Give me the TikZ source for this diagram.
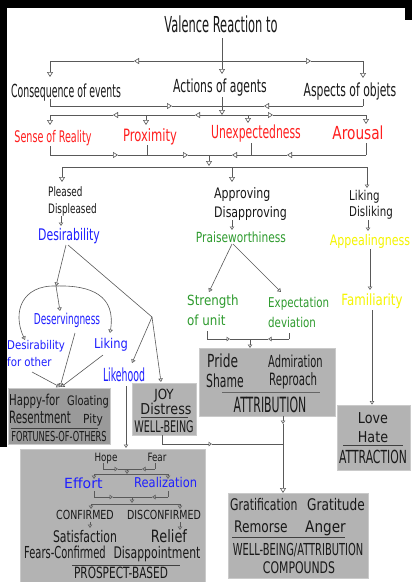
\documentclass[tikz,border=0pt]{standalone}
\usepackage{fontspec}
\setmainfont{DejaVu Sans}
\newfontfamily\fN[FakeStretch=0.52]{DejaVu Sans}
\newfontfamily\fM[FakeStretch=0.60]{DejaVu Sans}
\newfontfamily\fW[FakeStretch=0.68]{DejaVu Sans}
\newfontfamily\fX[FakeStretch=0.76]{DejaVu Sans}
\newfontfamily\fY[FakeStretch=0.85]{DejaVu Sans}
\newcommand\fsz[1]{\fontsize{#1}{#1}\selectfont}
\usetikzlibrary{arrows.meta}
\definecolor{cred}{HTML}{FF1F1F}
\definecolor{cblue}{HTML}{1F1FFF}
\definecolor{cgreen}{HTML}{2E9B2E}
\definecolor{cyel}{HTML}{F5F500}
\definecolor{boxg}{HTML}{B3B3B3}
\definecolor{boxd}{HTML}{9A9A9A}
\definecolor{boxe}{HTML}{CACACA}
\begin{document}
\begin{tikzpicture}[x=1pt,y=-1pt,
  ln/.style={draw=black!65, line width=0.6pt},
  ar/.style={ln, -{Triangle[open, length=5pt, width=6pt]}},
  sar/.style={ln, -{Triangle[open, length=3.5pt, width=4.5pt]}},
  txt/.style={inner sep=0pt, anchor=base, text=black!90},
  tl/.style={txt, anchor=base west},
  box/.style={draw=boxe, fill=boxg, line width=0.8pt, inner sep=0pt},
  rtx/.style={txt, text=cred},
  btx/.style={txt, text=cblue},
  gtx/.style={tl, text=cgreen},
  ytx/.style={txt, text=cyel},
]
\useasboundingbox (0,0) rectangle (412,582);
\fill[white] (0,0) rectangle (412,582);
\fill[black] (0,0) rectangle (412,8);
\fill[black] (0,0) rectangle (7,447);
\fill[black] (405,0) rectangle (412,20);

% ---------- boxes ----------
\node[box, fill=boxd, minimum width=102pt, minimum height=56pt] (hbox) at (59,416) {};
\node[box, minimum width=64pt, minimum height=52pt] (jbox) at (164,409) {};
\node[box, minimum width=136pt, minimum height=68pt] (abox) at (267,382) {};
\node[box, minimum width=73pt, minimum height=65pt] (lbox) at (373.5,437.5) {};
\node[box, minimum width=140pt, minimum height=85pt] (cbox) at (298,535.5) {};
\node[box, minimum width=185pt, minimum height=134pt] (pbox) at (112.5,516) {};

% ---------- top texts ----------
\node[txt, font=\fN\fsz{22}] (title) at (221,32) {Valence Reaction to};
\node[txt, font=\fN\fsz{18}] (cons) at (66,97) {Consequence of events};
\node[txt, font=\fM\fsz{18}] (acts) at (220,92) {Actions of agents};
\node[txt, font=\fM\fsz{18}] (asp) at (350,96) {Aspects of objets};

\node[rtx, font=\fM\fsz{16}] (sense) at (53,142) {Sense of Reality};
\node[rtx, font=\fW\fsz{17}] (prox) at (150,141) {Proximity};
\node[rtx, font=\fM\fsz{18}] (unexp) at (256,138) {Unexpectedness};
\node[rtx, font=\fX\fsz{18}] (arou) at (358,139) {Arousal};

\node[tl, font=\fW\fsz{13}] (pl) at (48,196) {Pleased};
\node[tl, font=\fW\fsz{13}] (dpl) at (48,213) {Displeased};
\node[tl, font=\fX\fsz{14.5}] (ap) at (214,198) {Approving};
\node[tl, font=\fX\fsz{14.5}] (dap) at (214,217) {Disapproving};
\node[tl, font=\fX\fsz{13.5}] (lk) at (349,200) {Liking};
\node[tl, font=\fX\fsz{13.5}] (dlk) at (349,216) {Disliking};

\node[btx, font=\fW\fsz{16}] (desir) at (69,240) {Desirability};
\node[txt, text=cgreen, font=\fX\fsz{14}] (praise) at (241,242) {Praiseworthiness};
\node[ytx, font=\fX\fsz{14.5}] (appeal) at (370,245) {Appealingness};
\node[ytx, font=\fX\fsz{15.5}] (famil) at (372,305) {Familiarity};

\node[gtx, font=\fY\fsz{14}] (str) at (187,305) {Strength};
\node[gtx, font=\fY\fsz{14}] (ofu) at (187,325) {of unit};
\node[gtx, font=\fX\fsz{13.5}] (exp) at (268,307) {Expectation};
\node[gtx, font=\fX\fsz{13.5}] (dev) at (268,327) {deviation};

\node[btx, font=\fM\fsz{15}] (deserv) at (67,324) {Deservingness};
\node[btx, anchor=base west, font=\fY\fsz{12}] (dfo1) at (7,349) {Desirability};
\node[btx, anchor=base west, font=\fY\fsz{12}] (dfo2) at (7,366) {for other};
\node[btx, font=\fY\fsz{13.5}] (lik2) at (111,348) {Liking};
\node[btx, font=\fN\fsz{18}] (likeh) at (124,381) {Likehood};

% ---------- box texts ----------
\node[tl, font=\fW\fsz{15}] (happy) at (9,405) {Happy-for};
\node[tl, font=\fX\fsz{13}] (gloat) at (67,405) {Gloating};
\node[tl, font=\fM\fsz{17}] (resent) at (9,423) {Resentment};
\node[tl, font=\fY\fsz{12.5}] (pity) at (83,423) {Pity};
\draw[black!75, line width=0.6pt] (11,428) -- (98,428);
\node[txt, font=\fM\fsz{13.7}] (foo) at (59,441) {FORTUNES-OF-OTHERS};

\node[txt, font=\fY\fsz{14}] (joy) at (164,399) {JOY};
\node[txt, font=\fY\fsz{15}] (distr) at (166,414) {Distress};
\draw[black!75, line width=0.6pt] (141,417) -- (188,417);
\node[txt, font=\fM\fsz{16}] (wb) at (164,432) {WELL-BEING};

\node[tl, font=\fW\fsz{18}] (pride) at (207,367) {Pride};
\node[tl, font=\fM\fsz{18}] (shame) at (206,387) {Shame};
\node[tl, font=\fM\fsz{16.5}] (admir) at (268,367) {Admiration};
\node[tl, font=\fM\fsz{17}] (repr) at (269,385) {Reproach};
\draw[black!60, line width=0.8pt] (222,392) -- (320,392);
\node[txt, font=\fN\fsz{21}] (attr) at (270,412) {ATTRIBUTION};

\node[txt, font=\fY\fsz{15}] (love) at (373,423) {Love};
\node[txt, font=\fY\fsz{15}] (hate) at (373,442) {Hate};
\draw[black!75, line width=0.6pt] (343,445) -- (403,445);
\node[txt, font=\fM\fsz{18}] (attrac) at (373,463) {ATTRACTION};

\node[tl, font=\fW\fsz{16}] (grat) at (230,510) {Gratification};
\node[tl, font=\fX\fsz{16}] (gratu) at (307,510) {Gratitude};
\node[tl, font=\fX\fsz{16}] (remor) at (234,532) {Remorse};
\node[tl, font=\fY\fsz{16}] (anger) at (305,532) {Anger};
\draw[black!75, line width=0.6pt] (232,537) -- (345,537);
\node[txt, font=\fM\fsz{16.5}] (wba) at (298,555) {WELL-BEING/ATTRIBUTION};
\node[txt, font=\fW\fsz{16}] (comp) at (299,573) {COMPOUNDS};

\node[txt, font=\fX\fsz{11.5}] (hope) at (106,461) {Hope};
\node[txt, font=\fX\fsz{11.5}] (fear) at (157,461) {Fear};
\node[tl, text=cblue, font=\fsz{14}] (effort) at (64,488) {Effort};
\node[tl, text=cblue, font=\fY\fsz{13.5}] (realiz) at (134,487) {Realization};
\node[txt, font=\fX\fsz{12.5}] (conf) at (85,519) {CONFIRMED};
\node[txt, font=\fX\fsz{12.5}] (disc) at (164,519) {DISCONFIRMED};
\node[txt, font=\fW\fsz{16}] (satis) at (85,542) {Satisfaction};
\node[txt, font=\fX\fsz{17}] (relief) at (169,542) {Relief};
\node[txt, font=\fM\fsz{16.5}] (fconf) at (65,558) {Fears-Confirmed};
\node[txt, font=\fW\fsz{16}] (disap) at (157,558) {Disappointment};
\draw[black!75, line width=0.6pt] (72,565) -- (180,565);
\node[txt, font=\fW\fsz{15.5}] (pb) at (121,578.5) {PROSPECT-BASED};

% ---------- connectors: top ----------
\draw[ar] (222,38) -- (222,74);
\draw[ar] (222,61) -- (134,61);
\draw[ln] (134,61) -- (50,61);
\draw[ar] (50,61) -- (50,77);
\draw[ar] (222,61) -- (311,61);
\draw[ln] (311,61) -- (363,61);
\draw[ar] (363,61) -- (363,78);

\draw[ln] (50,99) -- (50,106);
\draw[ar] (50,106) -- (172,106);
\draw[ln] (172,106) -- (222,106);
\draw[ln] (363,99) -- (363,106);
\draw[ar] (363,106) -- (264,106);
\draw[ln] (264,106) -- (222,106);
\draw[ar] (222,97) -- (222,115);

\draw[ar] (222,115) -- (195,115);
\draw[ln] (195,115) -- (146,115);
\draw[ar] (146,115) -- (113,115);
\draw[ln] (113,115) -- (50,115);
\draw[ln] (222,115) -- (248,115);
\draw[ar] (248,115) -- (273,115);
\draw[ln] (273,115) -- (366,115);
\draw[ar] (50,115) -- (50,125);
\draw[ar] (146,115) -- (146,125);
\draw[ar] (248,115) -- (248,123);
\draw[ar] (366,115) -- (366,124);

\draw[ln] (50,146) -- (50,155);
\draw[ln] (147,145) -- (147,155);
\draw[ln] (251,143) -- (251,155);
\draw[ln] (366,143) -- (366,155);
\draw[ar] (50,155) -- (118,155);
\draw[ln] (118,155) -- (147,155);
\draw[ar] (147,155) -- (188,155);
\draw[ln] (188,155) -- (209,155);
\draw[ar] (251,155) -- (232,155);
\draw[ln] (232,155) -- (209,155);
\draw[ar] (366,155) -- (287,155);
\draw[ln] (287,155) -- (251,155);
\draw[ar] (209,155) -- (209,166);

\draw[ln] (62,167) -- (367,167);
\draw[ar] (62,167) -- (62,182);
\draw[ar] (232,167) -- (232,182);
\draw[sar] (367,167) -- (367,188);

\draw[sar] (61,216) -- (61,226);
\draw[sar] (232,220) -- (232,230);
\draw[sar] (368,220) -- (368,231);
\draw[sar] (370,249) -- (370,290);
\draw[sar] (372,310) -- (lbox.north -| 372,0);

% ---------- praiseworthiness branch ----------
\draw[sar] (232,244) -- (209,292);
\draw[sar] (233,244) -- (281,292);
\draw[ln] (207,331) -- (207,339);
\draw[ln] (289,333) -- (289,339);
\draw[sar] (207,339) -- (230,339);
\draw[ln] (230,339) -- (250,339);
\draw[sar] (289,339) -- (268,339);
\draw[ln] (268,339) -- (250,339);
\draw[sar] (250,339) -- (250,348);

\draw[sar] (283,416) -- (283,424);
\draw[ar] (283,424) -- (283,493);
\draw[ln] (162,435) -- (162,444);
\draw[sar] (162,444) -- (212,444);
\draw[ln] (212,444) -- (283,444);

% ---------- desirability branch ----------
\coordinate (j1) at (56,286);
\coordinate (j2) at (152,317);
\draw[sar] (66,245) -- (j1);
\draw[ln] (68,245) -- (j2);
\draw[sar] (j1) -- (60,311);
\draw[sar] (j1) .. controls (22,285) and (12,312) .. (25,340);
\draw[sar] (j1) .. controls (92,285) and (116,296) .. (110,333);
\draw[sar] (j2) -- (132,363);
\draw[sar] (j2) -- (161,382);
\draw[sar] (126,386) -- (126,448);
\draw[sar] (32,372) -- (60,387);
\draw[sar] (75,333) -- (60,387);
\draw[sar] (103,355) -- (61,387);

% ---------- prospect internals ----------
\draw[ln] (103,463) -- (103,469);
\draw[ln] (155,463) -- (155,469);
\draw[sar] (103,469) -- (118,469);
\draw[ln] (118,469) -- (142,469);
\draw[sar] (155,469) -- (142,469);
\draw[sar] (127,469) -- (127,474);
\draw[ln] (94,474) -- (168,474);
\draw[sar] (94,474) -- (94,479);
\draw[sar] (168,474) -- (168,479);

\draw[ln] (94,491) -- (94,497);
\draw[ln] (168,491) -- (168,497);
\draw[sar] (94,497) -- (113,497);
\draw[ln] (113,497) -- (152,497);
\draw[sar] (168,497) -- (152,497);
\draw[sar] (132,497) -- (132,503);
\draw[ln] (91,504) -- (180,504);
\draw[sar] (91,504) -- (91,509);
\draw[sar] (180,504) -- (180,509);
\draw[sar] (90,522) -- (90,528);
\draw[sar] (180,522) -- (180,530);
\end{tikzpicture}
\end{document}
